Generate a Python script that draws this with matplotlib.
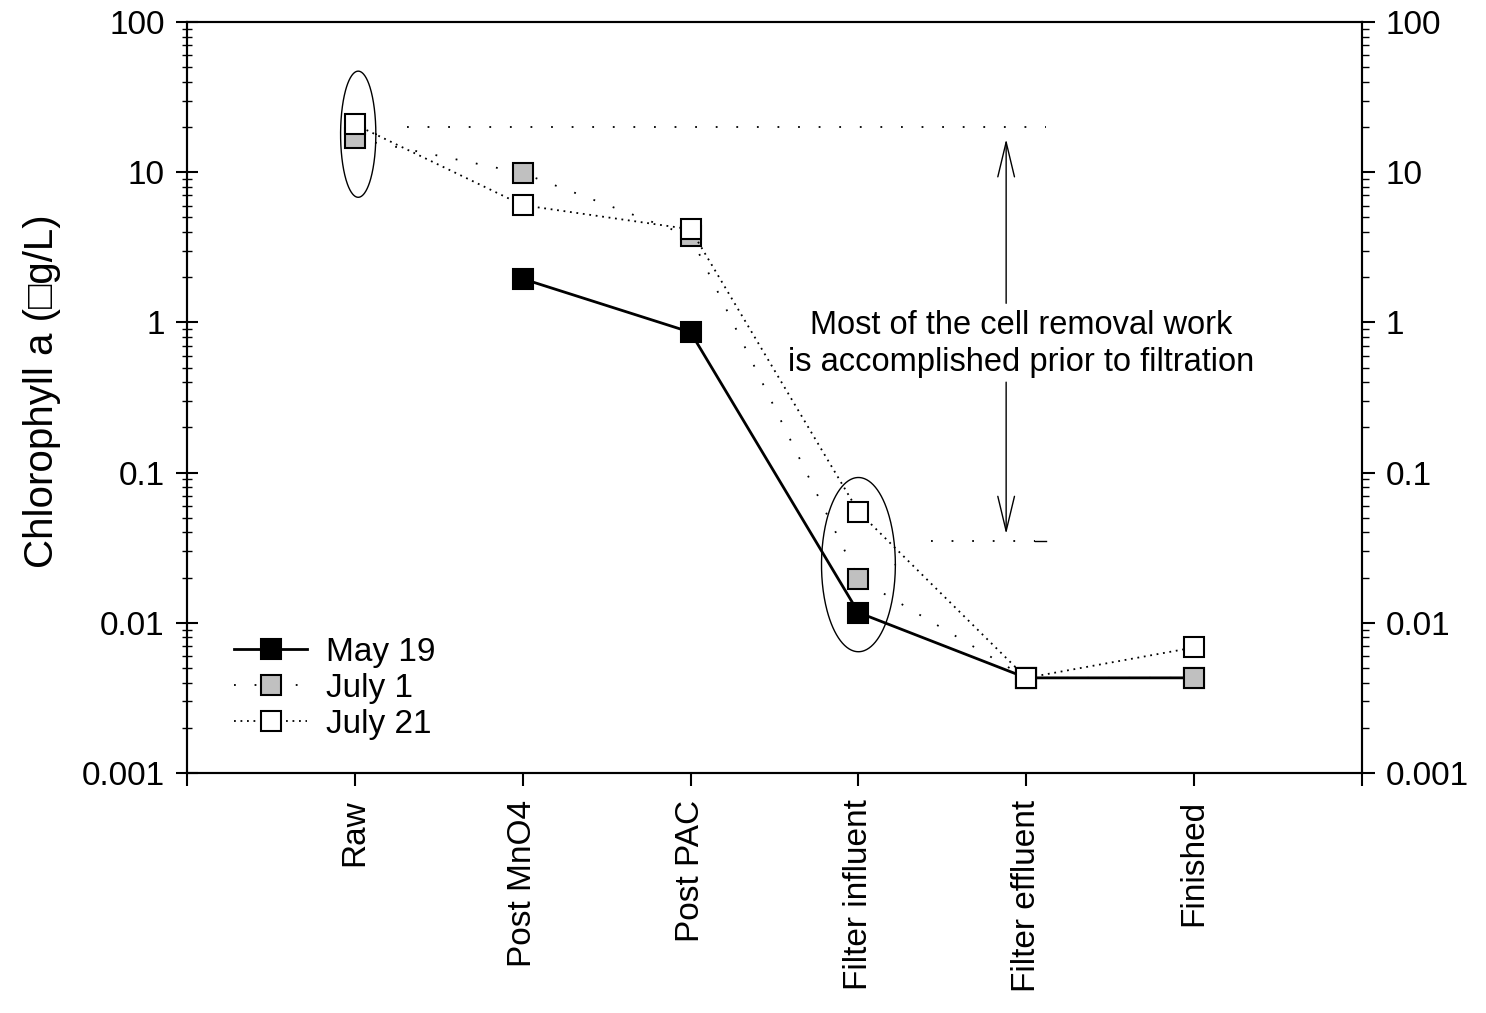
import numpy as np
import matplotlib
matplotlib.use('Agg')
import matplotlib.pyplot as plt
from matplotlib.ticker import FixedLocator, LogLocator, NullFormatter

plt.rcParams['font.family'] = ['Liberation Sans', 'DejaVu Sans']
plt.rcParams['font.size'] = 24

stages = ['Raw', 'Post MnO4', 'Post PAC', 'Filter influent', 'Filter effluent', 'Finished']
x = np.arange(1, len(stages) + 1)

# chlorophyll a per treatment stage (nan = not sampled)
may19 = [np.nan, 1.95, 0.86, 0.0117, 0.0043, 0.0043]
july1 = [16.8, 9.85, 3.74, 0.0197, 0.0043, 0.0043]
july21 = [20.8, 6.03, 4.17, 0.055, 0.0043, 0.00685]

decades = [0.001, 0.01, 0.1, 1, 10, 100]
decade_labels = ['0.001', '0.01', '0.1', '1', '10', '100']

sparse = (0, (1, 10.4))   # widely spaced dots
dense = (0, (1, 2.6))     # close dots

fig = plt.figure(figsize=(14.86, 10.13), dpi=100)
ax = fig.add_axes([187/1486, 1-773/1013, (1362-187)/1486, (773-22)/1013])

ax.plot(x, may19, '-', color='black', lw=2, marker='s', ms=15,
        mfc='black', mec='black', mew=1.5, label='May 19')
ax.plot(x, july1, linestyle=sparse, color='black', lw=1.3, marker='s', ms=15,
        mfc='#c0c0c0', mec='black', mew=1.5, label='July 1')
ax.plot(x, july21, linestyle=dense, color='black', lw=1.3, marker='s', ms=15,
        mfc='white', mec='black', mew=1.5, label='July 21')

# ellipses around the raw and filter influent points
t = np.linspace(0, 2*np.pi, 300)
for cx, cy, a, b in [(1.02, 17.9, 0.105, 0.42), (4.0, 0.0244, 0.22, 0.58)]:
    ax.plot(cx + a*np.cos(t), cy*10**(b*np.sin(t)), color='black', lw=1)

# reference levels
ax.plot([1.31, 5.12], [20.0, 20.0], linestyle=sparse, color='black', lw=1.3)
ax.plot([4.43, 5.05], [0.035, 0.035], linestyle=sparse, color='black', lw=1.3)
ax.plot([5.05, 5.12], [0.035, 0.035], '-', color='black', lw=1)

arr = dict(arrowstyle='->,head_length=1.25,head_width=0.3', mutation_scale=20,
           lw=1, color='black', shrinkA=0, shrinkB=0)
ax.annotate('', xy=(4.88, 16.6), xytext=(4.88, 1.34), arrowprops=arr)
ax.annotate('', xy=(4.88, 0.039), xytext=(4.88, 0.40), arrowprops=arr)
ax.text(4.97, 0.72, 'Most of the cell removal work\nis accomplished prior to filtration',
        ha='center', va='center', multialignment='center', linespacing=1.23,
        fontsize=23.5)

ax.set_yscale('log')
ax.set_ylim(0.001, 100)
ax.set_xlim(0, 7)
ax.yaxis.set_major_locator(FixedLocator(decades))
ax.set_yticklabels(decade_labels)
ax.yaxis.set_minor_locator(LogLocator(subs=np.arange(2, 10)))
ax.yaxis.set_minor_formatter(NullFormatter())
ax.tick_params(axis='y', which='major', direction='inout', length=16, width=1.5, pad=8)
ax.tick_params(axis='y', which='minor', direction='inout', length=7, width=1)

ax.set_xticks(np.arange(0, 8))
ax.set_xticklabels([''] + stages + [''], rotation=90)
ax.tick_params(axis='x', direction='out', length=9, width=1.5, pad=10)

for s in ax.spines.values():
    s.set_linewidth(1.5)

ax2 = ax.twinx()
ax2.set_yscale('log')
ax2.set_ylim(0.001, 100)
ax2.yaxis.set_major_locator(FixedLocator(decades))
ax2.set_yticklabels(decade_labels)
ax2.yaxis.set_minor_locator(LogLocator(subs=np.arange(2, 10)))
ax2.yaxis.set_minor_formatter(NullFormatter())
ax2.tick_params(axis='y', which='major', direction='out', length=9, width=1.5, pad=8)
ax2.tick_params(axis='y', which='minor', direction='out', length=5, width=1)
for s in ax2.spines.values():
    s.set_linewidth(1.5)

fig.text(42/1486, 1-391/1013, 'Chlorophyll a (\u25a1g/L)', rotation=90,
         ha='center', va='center', fontsize=29)

ax.legend(loc='upper left', bbox_to_anchor=(0.04, 0.181), frameon=False,
          borderpad=0, borderaxespad=0, handlelength=2.2, handletextpad=0.55,
          labelspacing=0.15)

fig.savefig('out.png', dpi=100)
